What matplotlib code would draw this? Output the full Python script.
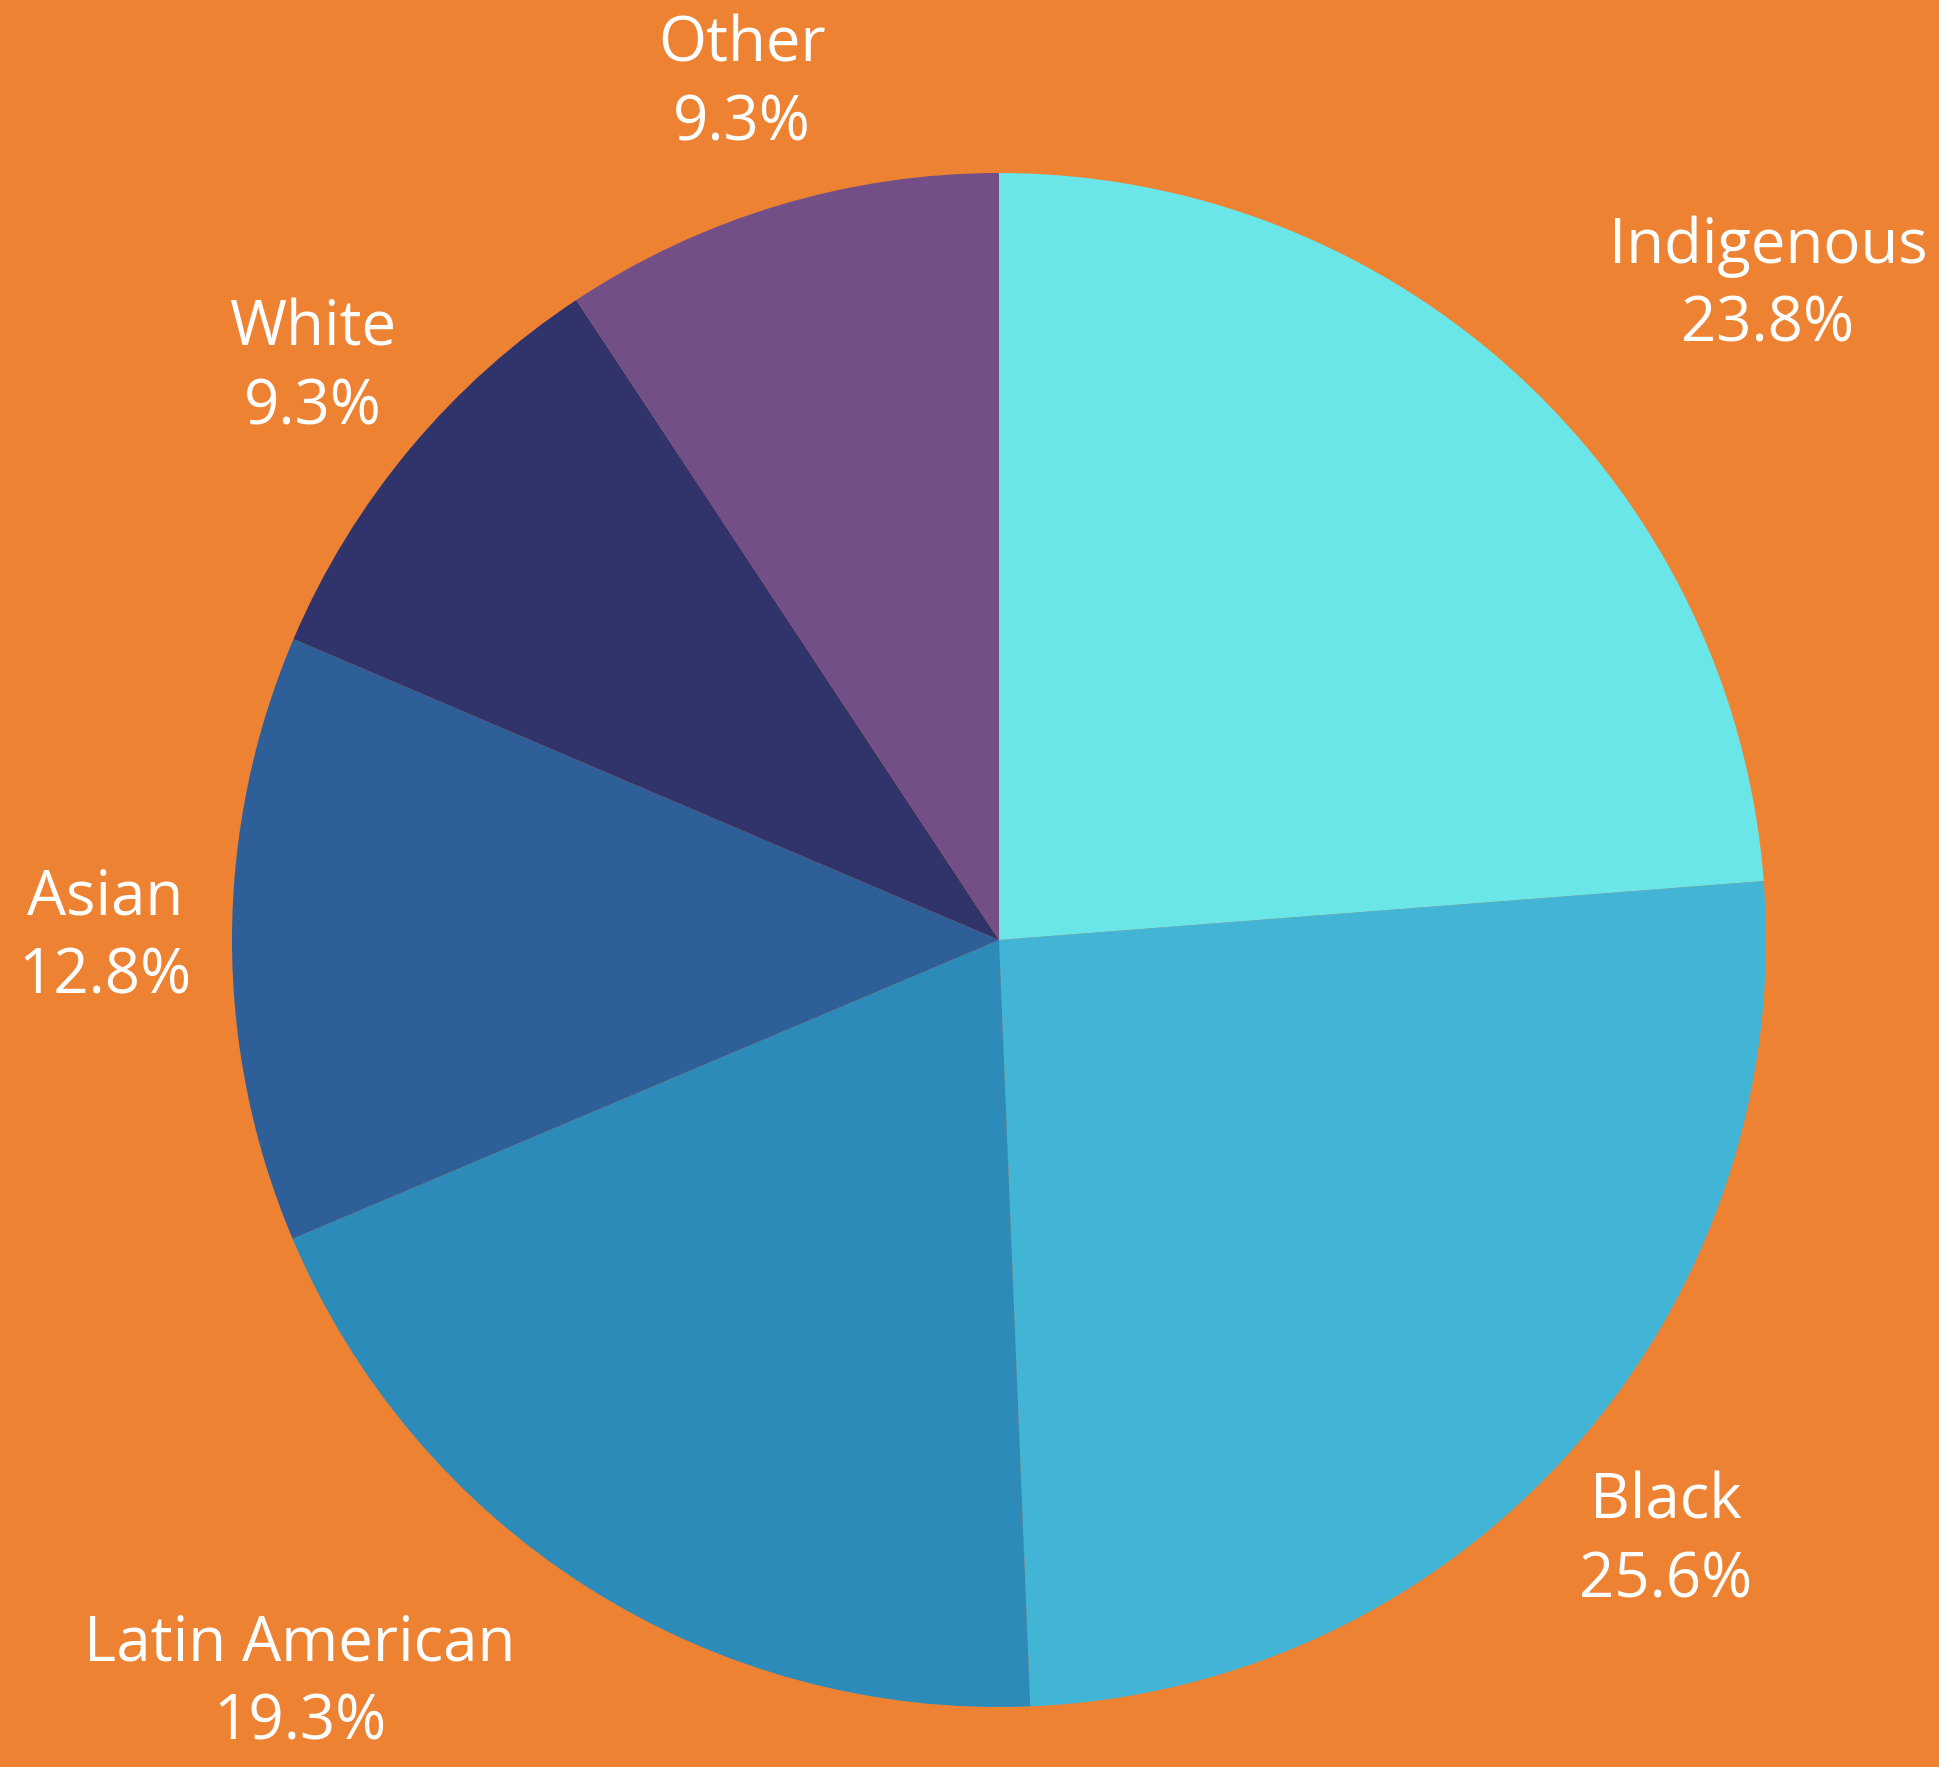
import matplotlib
matplotlib.use('Agg')
import matplotlib.pyplot as plt

# data
groups = ['Indigenous', 'Black', 'Latin American', 'Asian', 'White', 'Other']
shares = [23.8, 25.6, 19.3, 12.8, 9.3, 9.3]
colors = ['#6AE5E8', '#42B5D6', '#2D8BBA', '#2E5F98', '#30346B', '#734F87']

# label anchor positions in pixels (x, y from top)
label_pos = [(1768, 286), (1666, 1542), (300, 1684), (105, 938), (313, 369), (742, 85)]

W, H = 1939, 1767
bg = '#EE8233'

fig = plt.figure(figsize=(W / 100, H / 100), dpi=100, facecolor=bg)
ax = fig.add_axes([0, 0, 1, 1])
ax.set_facecolor(bg)

cx, cy, r = 999, H - 940, 767
ax.pie(shares, colors=colors, startangle=90, counterclock=False,
       center=(cx, cy), radius=r, frame=True,
       wedgeprops=dict(linewidth=0))
ax.set_xlim(0, W)
ax.set_ylim(0, H)
ax.set_aspect('equal')
ax.axis('off')

for name, val, (x, y) in zip(groups, shares, label_pos):
    ax.text(x, H - y, '%s\n%.1f%%' % (name, val), ha='center', va='center',
            color='white', fontsize=44.5, family='Open Sans', linespacing=1.35)

plt.savefig('out.png', dpi=100, facecolor=bg)
